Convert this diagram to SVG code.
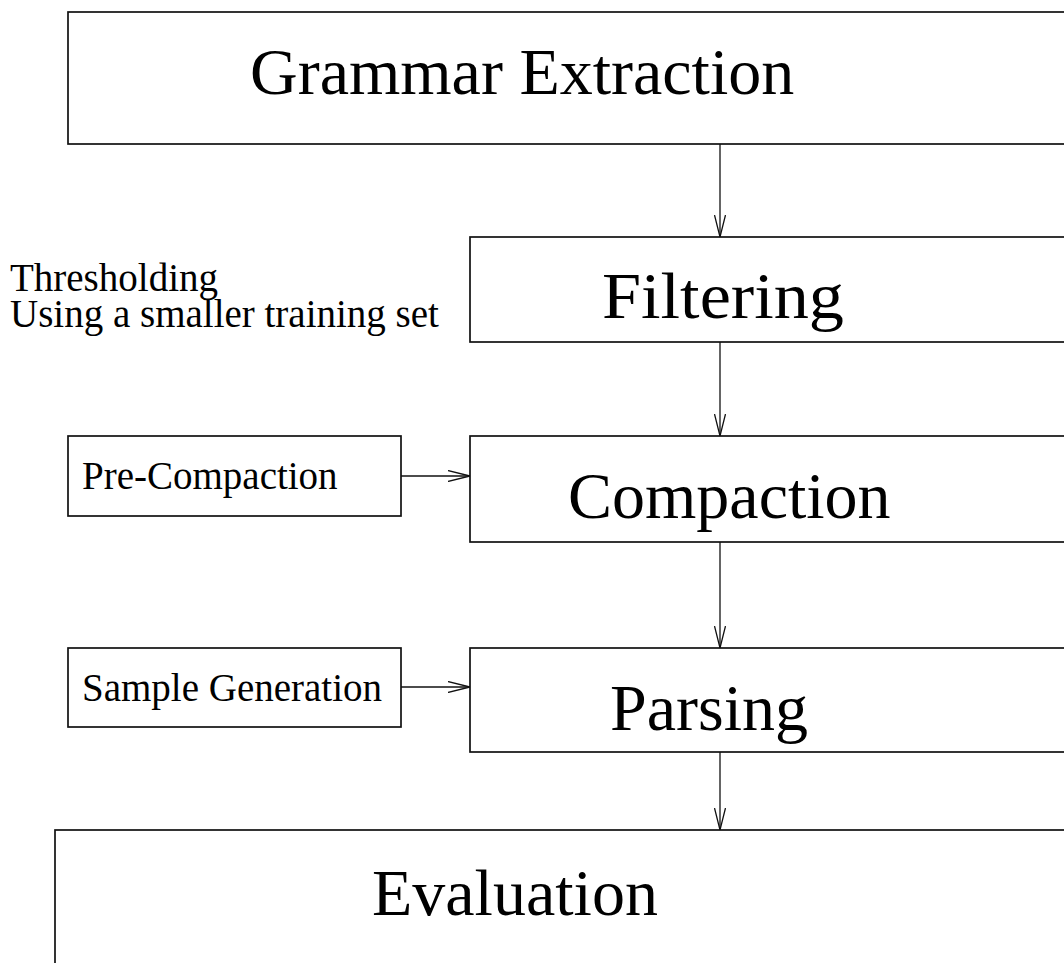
<svg xmlns="http://www.w3.org/2000/svg" width="1064" height="963" viewBox="0 0 1064 963">
<style>
.box{fill:#fff;stroke:#111;stroke-width:1.7}
.big{font-family:"Liberation Serif","Times New Roman",serif;font-size:66px;fill:#000}
.small{font-family:"Liberation Serif","Times New Roman",serif;font-size:39px;fill:#000}
.conn{stroke:#111;stroke-width:1.3;fill:none}
</style>
<defs>
<marker id="arr" viewBox="0 0 22 12" markerWidth="22" markerHeight="12" refX="22" refY="6" orient="auto" markerUnits="userSpaceOnUse">
<path d="M0,0.5 L22,6 L0,11.5" fill="none" stroke="#111" stroke-width="1.3"/>
</marker>
</defs>
<rect width="1064" height="963" fill="#fff"/>
<g id="grammar-extraction">
<rect class="box" x="68" y="12" width="1010" height="132"/>
<text class="big" x="250" y="94">Grammar Extraction</text>
</g>
<g id="filtering">
<rect class="box" x="470" y="237" width="610" height="105"/>
<text class="big" x="602" y="318" textLength="242" lengthAdjust="spacingAndGlyphs">Filtering</text>
</g>
<g id="filtering-notes">
<text class="small"><tspan x="10" y="291">Thresholding</tspan><tspan x="10" y="327">Using a smaller training set</tspan></text>
</g>
<g id="compaction">
<rect class="box" x="470" y="436" width="610" height="106"/>
<text class="big" x="568" y="518">Compaction</text>
</g>
<g id="pre-compaction">
<rect class="box" x="68" y="436" width="333" height="80"/>
<text class="small" x="82" y="489">Pre-Compaction</text>
</g>
<g id="parsing">
<rect class="box" x="470" y="648" width="610" height="104"/>
<text class="big" x="610" y="730">Parsing</text>
</g>
<g id="sample-generation">
<rect class="box" x="68" y="648" width="333" height="79"/>
<text class="small" x="82" y="701">Sample Generation</text>
</g>
<g id="evaluation">
<rect class="box" x="55" y="830" width="1030" height="150"/>
<text class="big" x="372" y="915">Evaluation</text>
</g>
<g id="connectors">
<line class="conn" x1="720" y1="144" x2="720" y2="237" marker-end="url(#arr)"/>
<line class="conn" x1="720" y1="342" x2="720" y2="436" marker-end="url(#arr)"/>
<line class="conn" x1="720" y1="542" x2="720" y2="648" marker-end="url(#arr)"/>
<line class="conn" x1="720" y1="752" x2="720" y2="830" marker-end="url(#arr)"/>
<line class="conn" x1="401" y1="476" x2="470" y2="476" marker-end="url(#arr)"/>
<line class="conn" x1="401" y1="687" x2="470" y2="687" marker-end="url(#arr)"/>
</g>
</svg>
